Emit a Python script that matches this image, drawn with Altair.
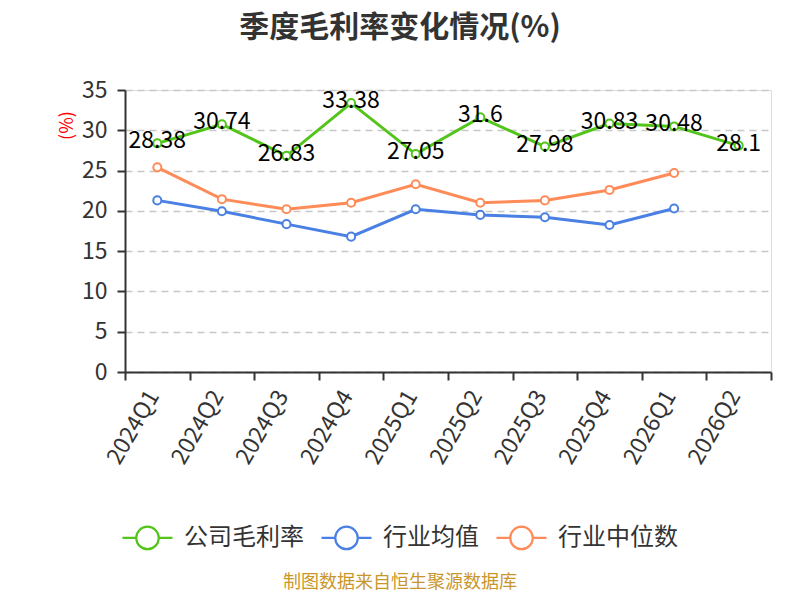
import altair as alt
import pandas as pd

quarters = ["2024Q1", "2024Q2", "2024Q3", "2024Q4", "2025Q1", "2025Q2",
            "2025Q3", "2025Q4", "2026Q1", "2026Q2"]
series_names = ["公司毛利率", "行业均值", "行业中位数"]
company = [28.38, 30.74, 26.83, 33.38, 27.05, 31.6, 27.98, 30.83, 30.48, 28.1]
industry_mean = [21.3, 19.95, 18.35, 16.8, 20.2, 19.5, 19.2, 18.25, 20.3]
industry_median = [25.4, 21.45, 20.2, 21.0, 23.3, 21.0, 21.3, 22.6, 24.7]
colors = ["#52c41a", "#4a80e3", "#ff8b58"]
title_text = "季度毛利率变化情况(%)"
source_text = "制图数据来自恒生聚源数据库"
font = "Noto Sans CJK SC"

rows = []
for name, vals in zip(series_names, [company, industry_mean, industry_median]):
    for q, v in zip(quarters, vals):
        rows.append({"quarter": q, "series": name, "value": v})
df = pd.DataFrame(rows)

W, H = 646, 282

x_enc = alt.X("quarter:N", sort=quarters,
              scale=alt.Scale(type="band", domain=quarters, paddingInner=0, paddingOuter=0),
              bandPosition=0.5,
              axis=alt.Axis(title=None, labelAngle=-60, labelFontSize=23, labelColor="#333",
                            labelFont=font, tickBand="extent", domainColor="#333",
                            domainWidth=2, tickColor="#333", tickWidth=2, tickSize=8,
                            labelPadding=12, labelOffset=-4, grid=False))
y_enc = alt.Y("value:Q", scale=alt.Scale(domain=[0, 35], nice=False),
              axis=alt.Axis(title="(%)", titleColor="red", titleFontSize=18,
                            titleFontWeight="normal", titleFont=font,
                            titleX=-49, titleY=35,
                            values=[0, 5, 10, 15, 20, 25, 30, 35],
                            labelFontSize=23, labelColor="#333", labelFont=font,
                            domainColor="#333", domainWidth=2, tickColor="#333",
                            tickWidth=2, tickSize=8, labelPadding=10,
                            grid=True, gridColor="#c8c8c8", gridDash=[7, 5],
                            gridWidth=1.5))

legend_path = ("M-1,0L-0.45,0M0.45,0L1,0M0.45,0A0.45,0.45,0,1,1,-0.45,0"
               "A0.45,0.45,0,1,1,0.45,0Z")
legend = alt.Legend(title=None, orient="none", direction="horizontal",
                    legendX=-4, legendY=421,
                    symbolType=legend_path, symbolSize=2500,
                    symbolStrokeWidth=2.2, symbolFillColor="white",
                    labelFontSize=24, labelColor="#333",
                    labelFont=font, labelOffset=10, columnPadding=13)
color_enc = alt.Color("series:N", scale=alt.Scale(domain=series_names, range=colors),
                      legend=legend)

base = alt.Chart(df)

lines = base.mark_line(strokeWidth=3).encode(x=x_enc, y=y_enc, color=color_enc)

points = base.mark_point(filled=False, fill="white", fillOpacity=1, size=65,
                         strokeWidth=2, opacity=1).encode(
    x=x_enc, y=y_enc, color=color_enc)

labels = base.transform_filter(alt.datum.series == series_names[0]).mark_text(
    fontSize=23, font=font, color="#000", baseline="middle", dy=-2
).encode(x=x_enc, y=y_enc, text=alt.Text("value:Q"))

footer = alt.Chart(pd.DataFrame({"t": [source_text]})).mark_text(
    fontSize=18, font=font, color="#c9962c", align="center", baseline="middle"
).encode(x=alt.value(400 - 125), y=alt.value(583 - 90), text="t:N")

chart = alt.layer(lines, points, labels, footer).properties(
    width=W, height=H,
    title=alt.TitleParams(title_text, fontSize=30, font=font, fontWeight="bold",
                          color="#333", anchor="middle", dx=-48, offset=36),
    autosize=alt.AutoSizeParams(type="none"),
    padding={"left": 117, "top": 82, "right": 21, "bottom": 220},
).configure_view(stroke=None).configure(background="white")

chart.save("out.html", embed_options={"renderer": "svg", "actions": False})
